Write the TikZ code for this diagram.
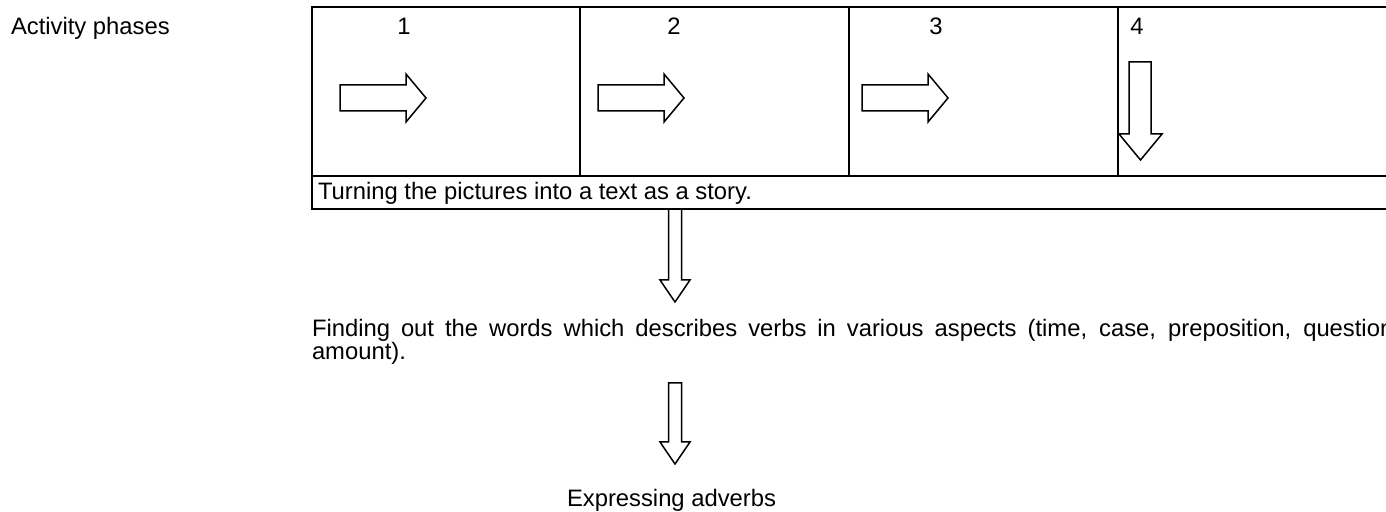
\documentclass[tikz,border=0pt]{standalone}
\usepackage{fontspec}
\setmainfont{Liberation Sans}
\begin{document}
\begin{tikzpicture}[x=0.5pt,y=-0.5pt,
  tline/.style={line width=1.1pt},
  aline/.style={line width=0.75pt, line join=miter},
  lbl/.style={inner sep=0pt, outer sep=0pt, font=\fontsize{11.9}{13}\selectfont},
  harrow/.pic={\draw[aline] (0,-13) -- (66,-13) -- (66,-24) -- (86,0) -- (66,24) -- (66,13) -- (0,13) -- cycle;}]
\useasboundingbox (0,0) rectangle (1386,512);
\clip (0,0) rectangle (1386,512);
% label
\node[lbl, anchor=base west] (act) at (11,35) {Activity phases};
% table
\draw[tline] (1400,7) -- (312,7) -- (312,209) -- (1400,209);
\draw[tline] (312,176) -- (1400,176);
\draw[tline] (580,7) -- (580,176) (849,7) -- (849,176) (1118,7) -- (1118,176);
\node[lbl, anchor=base] (n1) at (404,35) {1};
\node[lbl, anchor=base] (n2) at (674,35) {2};
\node[lbl, anchor=base] (n3) at (936,35) {3};
\node[lbl, anchor=base] (n4) at (1137,35) {4};
\pic at (340,98) {harrow};
\pic at (598,98) {harrow};
\pic at (862,98) {harrow};
\draw[aline] (1129,62) -- (1151,62) -- (1151,134) -- (1162,134) -- (1140.5,160) -- (1119,134) -- (1129,134) -- cycle;
\node[lbl, anchor=base west] (turn) at (318,200) {Turning the pictures into a text as a story.};
% down arrow 1
\coordinate (a1top) at (675,209);
\coordinate (a1tip) at (675,302);
\draw[aline] ([xshift=-3.25pt]a1top) -- ([xshift=3.25pt]a1top) -- ([xshift=3.25pt,yshift=11pt]a1tip) -- ([xshift=7.5pt,yshift=11pt]a1tip) -- (a1tip) -- ([xshift=-7.5pt,yshift=11pt]a1tip) -- ([xshift=-3.25pt,yshift=11pt]a1tip) -- cycle;
\node[lbl, anchor=base west] (find1) at (312,337) {\makebox[544pt][s]{Finding out the words which describes verbs in various aspects (time, case, preposition, question,}};
\node[lbl, anchor=base west] (find2) at (312,360) {amount).};
% down arrow 2
\coordinate (a2top) at (675,383);
\coordinate (a2tip) at (675,464);
\draw[aline] ([xshift=-3.25pt]a2top) -- ([xshift=3.25pt]a2top) -- ([xshift=3.25pt,yshift=11pt]a2tip) -- ([xshift=7.5pt,yshift=11pt]a2tip) -- (a2tip) -- ([xshift=-7.5pt,yshift=11pt]a2tip) -- ([xshift=-3.25pt,yshift=11pt]a2tip) -- cycle;
\node[lbl, anchor=base west] (expr) at (567,507) {Expressing adverbs};
\end{tikzpicture}
\end{document}
